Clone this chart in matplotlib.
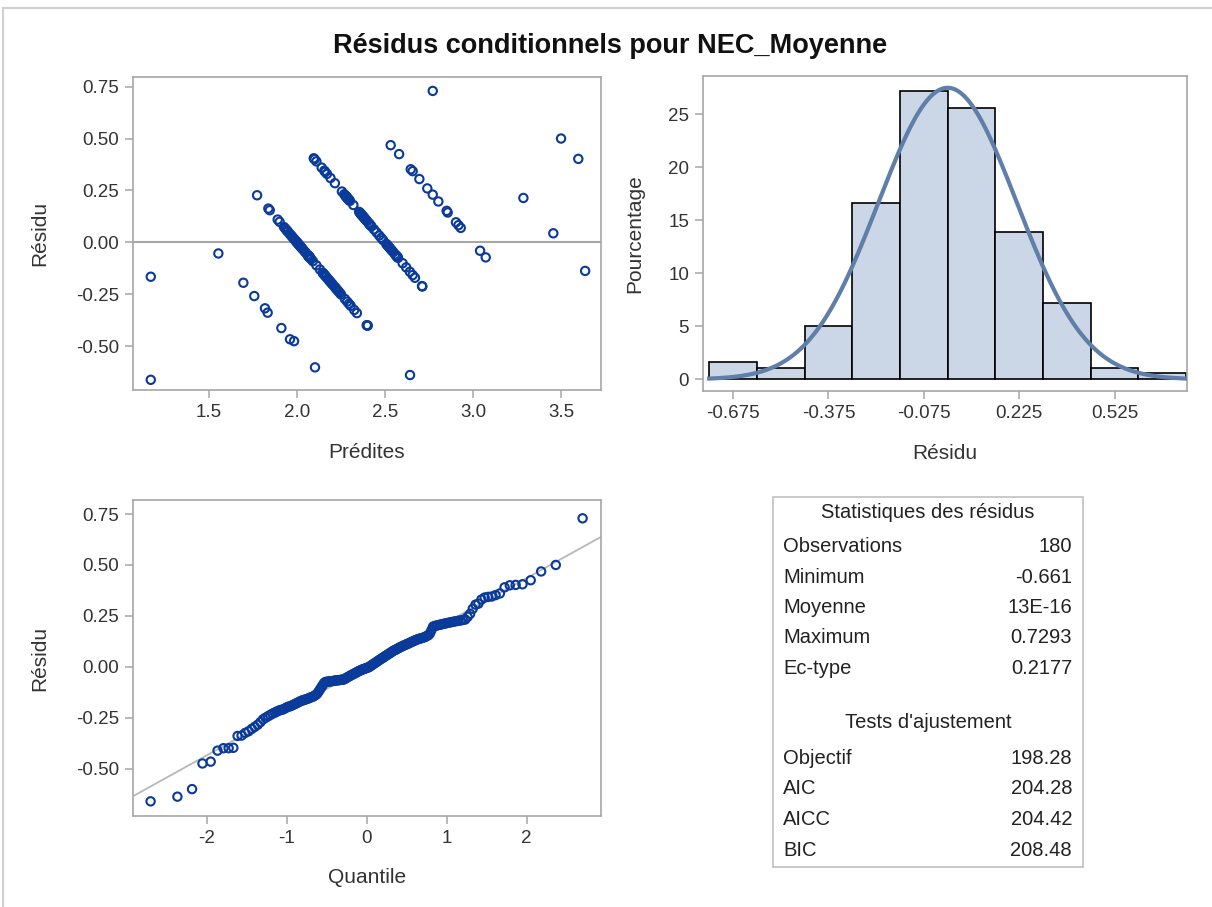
import statistics

import numpy as np
import matplotlib
matplotlib.use("Agg")
import matplotlib.pyplot as plt
from matplotlib.patches import Rectangle

plt.rcParams["font.family"] = ["Liberation Sans", "DejaVu Sans"]
plt.rcParams["axes.unicode_minus"] = False

# --- residuals, grouped by the diagonal they sit on ---
# isolated points (low observed values)
pred_low = [1.169, 1.169, 1.553, 1.695, 1.757, 1.818, 1.833, 1.911, 1.960, 1.983, 2.102, 2.642]
resid_low = [-0.661, -0.165, -0.053, -0.194, -0.258, -0.317, -0.338, -0.412, -0.466, -0.475, -0.601, -0.638]

# dense diagonal around observed = 2.0
pred_d2 = [2.402, 2.398, 2.396, 2.340, 2.325, 2.305,
           2.295, 2.285, 2.272, 2.250, 2.243, 2.236, 2.230, 2.225, 2.220, 2.215, 2.205, 2.200,
           2.196, 2.190, 2.186, 2.182, 2.178, 2.174, 2.166, 2.162, 2.159, 2.154, 2.151,
           2.148, 2.146, 2.130, 2.110, 2.090, 2.080, 2.075, 2.073, 2.072, 2.070, 2.069, 2.067,
           2.066, 2.065, 2.064, 2.063, 2.060, 2.050, 2.044, 2.035, 2.029, 2.023, 2.018, 2.013,
           2.009, 2.005, 2.003, 2.001,
           1.996, 1.993, 1.985, 1.982, 1.974, 1.970, 1.963, 1.959, 1.948, 1.945, 1.941, 1.934,
           1.926, 1.901, 1.890,
           1.845, 1.837, 1.773]
resid_d2 = [-0.400, -0.400, -0.398, -0.340, -0.325, -0.305,
            -0.295, -0.285, -0.272, -0.250, -0.243, -0.236, -0.230, -0.225, -0.220, -0.215, -0.205, -0.200,
            -0.196, -0.190, -0.186, -0.182, -0.178, -0.174, -0.166, -0.162, -0.159, -0.154, -0.151,
            -0.148, -0.146, -0.130, -0.110, -0.090, -0.080, -0.075, -0.073, -0.072, -0.070, -0.069, -0.067,
            -0.066, -0.065, -0.064, -0.063, -0.060, -0.050, -0.044, -0.035, -0.029, -0.023, -0.018, -0.013,
            -0.009, -0.005, -0.003, -0.001,
            0.004, 0.007, 0.015, 0.018, 0.026, 0.030, 0.037, 0.041, 0.052, 0.055, 0.059, 0.066,
            0.074, 0.099, 0.110,
            0.155, 0.163, 0.227]

# diagonal around observed = 2.5
pred_d25 = [2.712, 2.710, 2.670, 2.657,
            2.641, 2.620, 2.600, 2.574, 2.571, 2.568, 2.566, 2.564, 2.557, 2.547, 2.538, 2.532,
            2.526, 2.520, 2.515, 2.511, 2.507,
            2.489, 2.478, 2.467, 2.452, 2.437, 2.422, 2.419, 2.413, 2.410, 2.407, 2.398, 2.395,
            2.392, 2.387, 2.384, 2.381, 2.378, 2.375, 2.372, 2.369, 2.366, 2.364, 2.362, 2.360,
            2.358, 2.353,
            2.320, 2.300, 2.298, 2.296, 2.294, 2.292, 2.290, 2.288, 2.284, 2.282, 2.280, 2.278,
            2.276, 2.274, 2.268, 2.255, 2.215,
            2.190, 2.170, 2.160, 2.155, 2.140, 2.110, 2.100, 2.095]
resid_d25 = [-0.212, -0.210, -0.170, -0.157,
             -0.141, -0.120, -0.100, -0.074, -0.071, -0.068, -0.066, -0.064, -0.057, -0.047, -0.038, -0.032,
             -0.026, -0.020, -0.015, -0.011, -0.007,
             0.011, 0.022, 0.033, 0.048, 0.063, 0.078, 0.081, 0.087, 0.090, 0.093, 0.102, 0.105,
             0.108, 0.113, 0.116, 0.119, 0.122, 0.125, 0.128, 0.131, 0.134, 0.136, 0.138, 0.140,
             0.142, 0.147,
             0.180, 0.200, 0.202, 0.204, 0.206, 0.208, 0.210, 0.212, 0.216, 0.218, 0.220, 0.222,
             0.224, 0.226, 0.232, 0.245, 0.285,
             0.310, 0.330, 0.340, 0.345, 0.360, 0.390, 0.400, 0.405]

# diagonals around observed = 3.0, 3.5, 4.0
pred_high = [2.532, 2.580, 2.646, 2.657, 2.695, 2.740, 2.771, 2.803, 2.850, 2.856, 2.903, 2.917,
             2.930, 3.040, 3.072,
             2.771, 3.286, 3.456, 3.637,
             3.500, 3.598]
resid_high = [0.468, 0.425, 0.352, 0.343, 0.305, 0.260, 0.230, 0.197, 0.152, 0.144, 0.097, 0.083,
              0.070, -0.040, -0.072,
              0.729, 0.214, 0.044, -0.137,
              0.500, 0.402]

hist_edges = [-0.75, -0.60, -0.45, -0.30, -0.15, 0.0, 0.15, 0.30, 0.45, 0.60, 0.75]
hist_ticks = [-0.675, -0.375, -0.075, 0.225, 0.525]

stat_labels = ["Observations", "Minimum", "Moyenne", "Maximum", "Ec-type"]
stat_values = ["180", "-0.661", "13E-16", "0.7293", "0.2177"]
fit_labels = ["Objectif", "AIC", "AICC", "BIC"]
fit_values = ["198.28", "204.28", "204.42", "208.48"]
resid_mean = 0.0
resid_std = 0.2177

BLUE = "#0a3a9a"
GRID = "#a6a6a6"
TXT = "#333333"
TICK_FS = 13.5
LAB_FS = 15

pred = np.array(pred_low + pred_d2 + pred_d25 + pred_high)
resid = np.array(resid_low + resid_d2 + resid_d25 + resid_high)
n = len(resid)

W, H = 1212, 907
fig = plt.figure(figsize=(W / 100, H / 100), dpi=100)


def box(x0, y0, x1, y1):
    """pixel box (top-left origin) -> figure rect"""
    return [x0 / W, 1 - y1 / H, (x1 - x0) / W, (y1 - y0) / H]


def style(ax):
    for s in ax.spines.values():
        s.set_color(GRID)
        s.set_linewidth(1.2)
    ax.tick_params(direction="out", length=6, width=1.1, color=GRID,
                   labelcolor=TXT, labelsize=TICK_FS, pad=4)


# frame around the whole graph
fig.add_artist(plt.Line2D([3 / W, 1], [1 - 8 / H, 1 - 8 / H], color="#d0d0d0", lw=1.5))
fig.add_artist(plt.Line2D([3 / W, 3 / W], [0, 1 - 8 / H], color="#d0d0d0", lw=1.5))

fig.text(610 / W, 1 - 46 / H, "Résidus conditionnels pour NEC_Moyenne",
         ha="center", va="center", fontsize=19.5, fontweight="bold", color="#111111")

# residual vs predicted
ax1 = fig.add_axes(box(133, 77, 601, 390))
style(ax1)
ax1.axhline(0, color=GRID, lw=1.5, zorder=1)
ax1.scatter(pred, resid, s=36, facecolors="none", edgecolors=BLUE, linewidths=1.5, zorder=3)
ax1.set_xlim(1.068, 3.727)
ax1.set_ylim(-0.71, 0.796)
ax1.set_xticks([1.5, 2.0, 2.5, 3.0, 3.5])
ax1.set_xticklabels(["1.5", "2.0", "2.5", "3.0", "3.5"])
ax1.set_yticks([-0.5, -0.25, 0, 0.25, 0.5, 0.75])
ax1.set_yticklabels(["-0.50", "-0.25", "0.00", "0.25", "0.50", "0.75"])
ax1.set_xlabel("Prédites", fontsize=LAB_FS, color=TXT, labelpad=16)
ax1.set_ylabel("Résidu", fontsize=LAB_FS, color=TXT, labelpad=19)

# histogram with normal density
ax2 = fig.add_axes(box(703, 76, 1187, 391))
style(ax2)
ax2.hist(resid, bins=hist_edges, weights=np.full(n, 100.0 / n),
         color="#cbd6e6", edgecolor="black", linewidth=1.2, zorder=2)
xs = np.linspace(hist_edges[0], hist_edges[-1], 300)
dens = np.exp(-0.5 * ((xs - resid_mean) / resid_std) ** 2) / (resid_std * np.sqrt(2 * np.pi))
ax2.plot(xs, dens * 0.15 * 100, color="#5f7ea8", lw=3, zorder=3)
ax2.set_xlim(-0.7695, 0.753)
ax2.set_ylim(-1.1, 28.6)
ax2.set_xticks(hist_ticks)
ax2.set_xticklabels([f"{t:.3f}" for t in hist_ticks])
ax2.set_yticks([0, 5, 10, 15, 20, 25])
ax2.set_xlabel("Résidu", fontsize=LAB_FS, color=TXT, labelpad=16)
ax2.set_ylabel("Pourcentage", fontsize=LAB_FS, color=TXT, labelpad=17)

# normal quantile plot
ax3 = fig.add_axes(box(133, 500, 601, 816))
style(ax3)
nd = statistics.NormalDist()
qq_x = np.array([nd.inv_cdf((i - 0.375) / (n + 0.25)) for i in range(1, n + 1)])
qq_y = np.sort(resid)
xl = (-2.92, 2.93)
ax3.plot(xl, [resid_mean + resid_std * v for v in xl], color="#b8b8b8", lw=1.3, zorder=1)
ax3.scatter(qq_x, qq_y, s=36, facecolors="none", edgecolors=BLUE, linewidths=1.5, zorder=3)
ax3.set_xlim(*xl)
ax3.set_ylim(-0.733, 0.819)
ax3.set_xticks([-2, -1, 0, 1, 2])
ax3.set_yticks([-0.5, -0.25, 0, 0.25, 0.5, 0.75])
ax3.set_yticklabels(["-0.50", "-0.25", "0.00", "0.25", "0.50", "0.75"])
ax3.set_xlabel("Quantile", fontsize=LAB_FS, color=TXT, labelpad=15)
ax3.set_ylabel("Résidu", fontsize=LAB_FS, color=TXT, labelpad=19)

# statistics table
fig.add_artist(Rectangle((773 / W, 1 - 867 / H), (1083 - 773) / W, (867 - 497) / H,
                         transform=fig.transFigure, fill=False, edgecolor="#c0c0c0", lw=1.2))
tkw = dict(fontsize=14.5, color="#222222", va="center")
fig.text(928 / W, 1 - 513 / H, "Statistiques des résidus", ha="center", **tkw)
for k, (lab, val) in enumerate(zip(stat_labels, stat_values)):
    y = 1 - (547 + 30.3 * k) / H
    fig.text(783 / W, y, lab, ha="left", **tkw)
    fig.text(1072 / W, y, val, ha="right", **tkw)
fig.text(928 / W, 1 - 723 / H, "Tests d'ajustement", ha="center", **tkw)
for k, (lab, val) in enumerate(zip(fit_labels, fit_values)):
    y = 1 - (758 + 30.7 * k) / H
    fig.text(783 / W, y, lab, ha="left", **tkw)
    fig.text(1072 / W, y, val, ha="right", **tkw)

fig.savefig("out.png", dpi=100)
